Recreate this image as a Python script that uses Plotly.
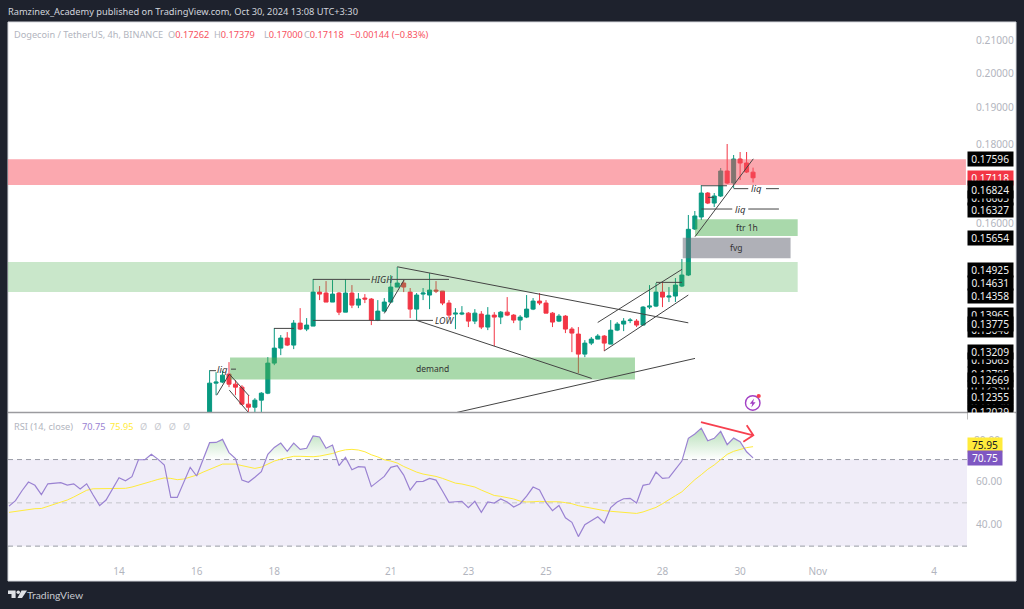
# -*- coding: utf-8 -*-
import numpy as np
import pandas as pd
import plotly.graph_objects as go

W = 1024
H = 609
BG = '#1e222d'
GREEN = '#089981'
RED = '#f23645'
GREY = '#b2b5be'
INK = '#333333'
FONT = 'Noto Sans'

# 4h candles, first one is bar 14 (bar 0 = Oct 14)
opens = [.11941,.12617,.12636,.12787,.12598,.12542,.12229,.12174,.12302,.12430,.12998,.13291,.13491,.13351,.13794,
         .13672,.13733,.14445,.14424,.14232,.14424,.14021,.14424,.14168,.14317,.14296,.13856,.14042,.14232,.14553,
         .14640,.14445,.14084,.14402,.14381,.14488,.14467,.14211,.13980,.13980,.14000,.13835,.13980,.13713,.13959,
         .13918,.14021,.13959,.13856,.13918,.14084,.14253,.14211,.14000,.13835,.13938,.13672,.13571,.13173,.13390,
         .13470,.13531,.13370,.13651,.13774,.13846,.13835,.13754,.14126,.14147,.14445,.14338,.14360,.14575,.14815,
         .15864,.16150,.16735,.16488,.16661,.17292,.16986,.17603,.17499,.17262]
highs = [.12863,.12825,.12844,.13017,.12673,.12579,.12393,.12339,.12449,.13114,.13692,.13551,.13611,.13856,.14105,
         .13897,.14727,.14575,.14683,.14705,.14445,.14727,.14596,.14424,.14402,.14317,.14274,.14317,.14815,.14992,
         .14705,.14532,.14424,.14532,.14858,.14683,.14467,.14274,.14105,.14147,.14021,.14084,.14042,.14126,.14021,
         .14042,.14338,.13980,.13959,.14381,.14317,.14424,.14274,.14021,.13980,.13959,.13713,.13713,.13450,.13511,
         .13571,.13551,.13856,.13815,.13897,.13897,.13877,.14147,.14596,.14640,.14662,.14553,.14749,.15171,.16198,
         .16294,.16935,.16760,.16735,.17369,.18000,.17708,.17787,.17787,.17379]
lows = [.11900,.12393,.12617,.12542,.12393,.12211,.12066,.12066,.12066,.12412,.12959,.13153,.13331,.13271,.13651,
        .13631,.13733,.14274,.14232,.14232,.13959,.14021,.14105,.14105,.14211,.13754,.13835,.14021,.14211,.14553,
        .14445,.13897,.13856,.14274,.14084,.14424,.14168,.13897,.13672,.13959,.13713,.13774,.13672,.13651,.13331,
        .13774,.13938,.13794,.13651,.13897,.14063,.14168,.14000,.13713,.13815,.13591,.13212,.12806,.13114,.13351,
        .13470,.13232,.13370,.13631,.13631,.13794,.13713,.13754,.14084,.14126,.14126,.14232,.14232,.14553,.14793,
        .15840,.16077,.16463,.16390,.16636,.16960,.16860,.17062,.17240,.17000]
closes = [.12617,.12636,.12768,.12598,.12542,.12229,.12174,.12302,.12430,.12998,.13291,.13491,.13351,.13794,.13672,
          .13754,.14445,.14402,.14232,.14402,.14021,.14424,.14168,.14296,.14296,.13856,.14042,.14232,.14553,.14640,
          .14553,.14084,.14381,.14424,.14488,.14467,.14211,.13959,.14000,.14000,.13835,.14000,.13713,.13959,.13918,
          .14021,.13959,.13856,.13918,.14084,.14253,.14211,.14000,.13815,.13938,.13672,.13591,.13173,.13390,.13470,
          .13531,.13390,.13651,.13774,.13835,.13856,.13754,.14126,.14147,.14445,.14338,.14360,.14596,.14815,.15857,
          .16174,.16735,.16488,.16661,.17292,.16986,.17603,.17499,.17266,.17118]

# RSI and its average, one value per bar from bar -17 to bar 98
rsi = [48.5,51.0,55.6,59.6,58.1,53.8,58.8,59.0,59.3,58.2,58.8,56.4,58.8,53.6,48.7,51.3,56.2,61.6,60.2,62.1,
       69.9,69.9,72.4,70.2,67.5,52.5,52.5,59.8,66.4,62.4,69.8,77.8,77.9,79.3,73.2,70.5,60.5,59.5,61.8,64.4,
       72.4,75.6,77.6,73.8,77.6,74.7,75.2,80.9,80.4,75.2,76.7,67.2,
       71.0,65.3,66.7,66.5,57.5,59.8,62.2,66.4,67.2,62.8,55.9,59.8,59.9,61.3,60.5,55.5,50.2,50.5,50.7,47.8,
       50.7,45.6,50.4,49.9,51.8,50.4,48.1,49.6,53.1,57.3,55.9,50.2,46.4,48.8,43.1,41.0,34.4,39.9,41.7,43.6,
       40.7,47.8,50.4,51.9,52.1,49.9,
       58.1,58.7,64.2,61.3,61.6,65.5,69.3,79.8,81.8,84.5,78.7,79.8,83.0,76.9,79.9,78.2,73.6,70.75]
rsi_ma = [45.6,46.1,46.5,47.0,47.3,47.4,48.4,49.1,50.1,51.3,52.7,54.4,55.8,56.5,56.5,56.5,56.5,56.5,56.7,57.3,
          58.1,58.8,59.9,60.8,61.5,61.3,60.7,61.0,61.8,62.8,64.2,65.5,66.7,67.9,67.9,67.9,67.2,66.4,65.9,66.5,
          67.8,69.3,70.2,70.8,71.5,71.5,71.3,71.3,71.6,72.1,72.8,73.8,
          74.5,74.7,74.4,73.6,72.2,71.2,69.9,69.3,68.4,66.8,65.5,64.2,63.3,62.8,62.2,61.3,60.2,59.1,58.7,58.1,
          57.3,55.9,54.5,53.4,53.0,52.5,51.8,50.8,50.4,50.5,50.7,50.5,50.5,50.5,50.1,49.6,48.7,48.1,47.4,47.0,
          46.4,46.1,45.8,45.4,45.1,45.1,
          45.8,46.7,47.9,49.6,51.3,53.3,55.1,57.9,60.7,63.0,65.5,67.5,69.8,72.4,73.8,74.7,75.5,75.95]

time_ticks = ['2024-10-14','2024-10-16','2024-10-18','2024-10-21','2024-10-23','2024-10-25','2024-10-28','2024-10-30','2024-11-01','2024-11-04']
time_labels = ['14','16','18','21','23','25','28','30','Nov','4']
price_ticks = [.21,.20,.19,.18,.16]
rsi_ticks = [60,40]

# zones: bar from, bar to, price top, price bottom
zone_supply = (-17.16, 130.9, .17596, .16935)
zone_wide = (-17.16, 104.9, .15104, .14445)
zone_demand = (17.16, 79.75, .13107, .12686)
zone_ftr = (89.03, 104.9, .16094, .15700)
zone_fvg = (87.13, 103.8, .15660, .15187)

# hand drawn lines: bar, price, bar, price
drawn_lines = [
    (14.06,.12853,14.99,.12853),(17.31,.12882,18.08,.12882),(15.1,.12393,17.05,.12787),
    (17.05,.12787,20.09,.12382),(17.05,.12486,20.09,.12066),(23.96,.13686,27.05,.13686),
    (29.98,.14720,38.79,.14720),(42.19,.14720,51.0,.14720),(29.98,.13850,48.53,.13850),
    (41.0,.13994,44.05,.14705),(43.01,.14998,87.99,.13800),(46.01,.13850,73.06,.12705),
    (51.93,.12072,89.03,.13089),(75.0,.13237,87.99,.14381),(73.99,.13807,87.02,.14941),
    (83.0,.14655,87.02,.14655),(90.0,.16917,93.97,.16917),(91.04,.16628,91.96,.16628),
    (95.0,.16844,97.26,.16844),(100.0,.16844,102.0,.16844),(90.0,.16342,94.79,.16342),
    (97.26,.16342,102.0,.16342),(89.03,.15684,98.04,.17608),
]
drawn_texts = [
    ('<i>liq</i>',15.95,.12882,9.5),('<i>HIGH</i>',40.6,.14720,9),('<i>LOW</i>',50.4,.13850,9),
    ('demand',48.5,.12900,8.5),('<i>liq</i>',98.6,.16844,9.5),('<i>liq</i>',96.0,.16342,9.5),
    ('ftr 1h',97.0,.15890,8.5),('fvg',95.4,.15430,8.5),
]
# red arrow on the RSI pane: bar and RSI value
arrow_bars = [89.95,98.04,None,97.02,98.04,96.5]
arrow_rsi = [87.3,81.2,None,85.8,81.2,78.2]

# labels on the price scale, later ones sit on top of earlier ones
scale_prices = ['0.16605','0.16824','0.16327','0.17596','0.15654','0.14925','0.14358','0.14631','0.13965','0.13646',
                '0.13775','0.13063','0.12785','0.12530','0.12250','0.13209','0.12669','0.12355']

t0 = pd.Timestamp('2024-10-14')


def bar_time(k):
    return str(t0 + pd.Timedelta(hours=4 * k))


def px(x):
    return x / W


def py(y):
    return 1 - y / H


candle_times = [t0 + pd.Timedelta(hours=4 * k) for k in range(14, 99)]
rsi_times = [t0 + pd.Timedelta(hours=4 * k) for k in range(-17, 99)]
x_range = [bar_time(-17.16), bar_time(131.07)]
price_top = .18 * np.exp(122 / 673)
price_bottom = .18 * np.exp(-268 / 673)

fig = go.Figure()
fig.add_trace(go.Candlestick(
    x=candle_times, open=opens, high=highs, low=lows, close=closes,
    increasing=dict(line=dict(color=GREEN, width=1), fillcolor=GREEN),
    decreasing=dict(line=dict(color=RED, width=1), fillcolor=RED),
    xaxis='x', yaxis='y', hoverinfo='skip', showlegend=False,
))

# overbought fill: keep the crossings of 70 so it stays under the RSI line
fill_t = []
fill_v = []
for i, r in enumerate(rsi):
    if i > 0 and (rsi[i - 1] - 70) * (r - 70) < 0:
        f = (70 - rsi[i - 1]) / (r - rsi[i - 1])
        fill_t.append(rsi_times[i - 1] + (rsi_times[i] - rsi_times[i - 1]) * f)
        fill_v.append(70)
    fill_t.append(rsi_times[i])
    fill_v.append(max(r, 70))
fig.add_trace(go.Scatter(x=fill_t, y=[70] * len(fill_t), mode='lines', line=dict(width=0),
                         xaxis='x2', yaxis='y2', hoverinfo='skip', showlegend=False))
fig.add_trace(go.Scatter(x=fill_t, y=fill_v, mode='lines', line=dict(width=0), fill='tonexty',
                         fillgradient=dict(type='vertical', start=70, stop=85,
                                           colorscale=[[0, 'rgba(129,199,132,0)'], [1, 'rgba(129,199,132,0.6)']]),
                         xaxis='x2', yaxis='y2', hoverinfo='skip', showlegend=False))
fig.add_trace(go.Scatter(x=rsi_times, y=rsi_ma, mode='lines', line=dict(color='#ffeb3b', width=1),
                         xaxis='x2', yaxis='y2', hoverinfo='skip', showlegend=False))
fig.add_trace(go.Scatter(x=rsi_times, y=rsi, mode='lines', line=dict(color='#9a82d2', width=1.2),
                         xaxis='x2', yaxis='y2', hoverinfo='skip', showlegend=False))
fig.add_trace(go.Scatter(x=[None if k is None else bar_time(k) for k in arrow_bars], y=arrow_rsi, mode='lines',
                         line=dict(color='#f7404f', width=1.8), connectgaps=False,
                         xaxis='x2', yaxis='y2', hoverinfo='skip', showlegend=False))

shapes = []
# white chart card
shapes.append(dict(type='rect', xref='paper', yref='paper', x0=px(8), x1=px(1016), y0=py(581), y1=py(22),
                   fillcolor='white', line=dict(color='#d6d8de', width=1), layer='below'))
shapes.append(dict(type='rect', xref='paper', yref='y2', x0=px(8), x1=px(967), y0=30, y1=70,
                   fillcolor='#f0edf8', line=dict(width=0), layer='below'))
for level, col in ((70, '#9a9ca6'), (50, '#c4c5cc'), (30, '#9a9ca6')):
    shapes.append(dict(type='line', xref='paper', yref='y2', x0=px(8), x1=px(967), y0=level, y1=level,
                       line=dict(color=col, width=1, dash='5px,4px'), layer='below'))


def zone(z, col):
    return dict(type='rect', xref='x', yref='y', x0=bar_time(z[0]), x1=bar_time(z[1]), y0=z[3], y1=z[2],
                fillcolor=col, line=dict(width=0), layer='above')


shapes.append(zone(zone_supply, 'rgba(247,82,95,0.5)'))
shapes.append(zone(zone_wide, 'rgba(76,175,80,0.3)'))
shapes.append(zone(zone_demand, 'rgba(76,175,80,0.48)'))
shapes.append(zone(zone_ftr, 'rgba(76,175,80,0.48)'))
shapes.append(zone(zone_fvg, 'rgba(110,112,124,0.55)'))
for a, b, c, d in drawn_lines:
    shapes.append(dict(type='line', xref='x', yref='y', x0=bar_time(a), y0=b, x1=bar_time(c), y1=d,
                       line=dict(color='#444444', width=1), layer='above'))
# pane separator
shapes.append(dict(type='line', xref='paper', yref='paper', x0=px(8), x1=px(1016), y0=py(412.5), y1=py(412.5),
                   line=dict(color='#9b9b9f', width=1.5), layer='above'))
# lightning badge
shapes.append(dict(type='circle', xref='paper', yref='paper', x0=px(745.5), x1=px(760), y0=py(410.2), y1=py(395.7),
                   line=dict(color='#a23fc4', width=1.4), fillcolor='white', layer='above'))
shapes.append(dict(type='path', xref='paper', yref='paper', layer='above', fillcolor='#a23fc4', line=dict(width=0),
                   path='M %f %f L %f %f L %f %f L %f %f L %f %f L %f %f Z' % (
                       px(754), py(398.5), px(749.8), py(403.8), px(752.3), py(403.8),
                       px(751.3), py(407.5), px(755.6), py(402.2), px(753.1), py(402.2))))
shapes.append(dict(type='circle', xref='paper', yref='paper', x0=px(756.6), x1=px(760.8), y0=py(398.1), y1=py(393.9),
                   fillcolor='#f7404f', line=dict(width=0), layer='above'))
# TradingView mark
logo = [
    'M %f %f L %f %f L %f %f L %f %f L %f %f L %f %f Z' % (
        px(8), py(590.5), px(15.6), py(590.5), px(15.6), py(598), px(11.5), py(598), px(11.5), py(594), px(8), py(594)),
    'M %f %f L %f %f L %f %f L %f %f Z' % (
        px(21.5), py(590.5), px(27), py(590.5), px(22), py(598), px(17.5), py(598)),
]
for p in logo:
    shapes.append(dict(type='path', xref='paper', yref='paper', path=p, fillcolor='#dfe1e6', line=dict(width=0)))
shapes.append(dict(type='circle', xref='paper', yref='paper', x0=px(16.5), x1=px(20), y0=py(594), y1=py(590.5),
                   fillcolor='#dfe1e6', line=dict(width=0)))

annotations = []


def note(text, x, y, size=10, color=GREY, anchor='left', xref='paper', yref='paper', **kw):
    annotations.append(dict(text=text, x=x, y=y, xref=xref, yref=yref, xanchor=anchor, yanchor='middle',
                            showarrow=False, font=dict(family=FONT, size=size, color=color), **kw))


note('Ramzinex_Academy published on TradingView.com, Oct 30, 2024 13:08 UTC+3:30', px(6), py(12), size=9.25, color='#d1d4dc')
annotations.append(dict(text='TradingView', x=px(25), y=py(595), xref='paper', yref='paper', xanchor='left',
                        yanchor='middle', showarrow=False, font=dict(family='Lato', size=10.4, color='#c8cad0')))
red = '<span style="color:%s">%%s</span>' % '#f7525f'
note('Dogecoin / TetherUS, 4h, BINANCE', px(12), py(34), size=9.2)
note('O' + red % '0.17262', px(166), py(34), size=9.2)
note('H' + red % '0.17379', px(212), py(34), size=9.2)
note('L' + red % '0.17000', px(262), py(34), size=9.2)
note('C' + red % '0.17118', px(302), py(34), size=9.2)
note(red % '−0.00144 (−0.83%)', px(348), py(34), size=9.2)
note('RSI (14, close)', px(12), py(426), size=9.2)
note('<span style="color:#9a82d2">70.75</span>', px(79.5), py(426), size=9.2)
note('<span style="color:#ffeb3b">75.95</span>', px(108), py(426), size=9.2)
note('Ø   Ø   Ø   Ø', px(138), py(426), size=9.2, color='#c8cad0')
for text, k, price, size in drawn_texts:
    note(text, bar_time(k), np.log10(price), size=size, color=INK, anchor='center', xref='x', yref='y')

box = dict(width=44.5, height=14, align='center', borderpad=0)
note('0.17118', px(967.3), np.log10(.17118), size=10.2, color='white', yref='y', bgcolor=RED, **box)
for label in scale_prices:
    b = dict(box)
    if label == '0.16824':
        b['height'] = 17
    note(label, px(967.3), np.log10(float(label)), size=10.2, color='#f0f0f0', yref='y', bgcolor='#000000', **b)
note('0.12029', px(967.3), py(412), size=10.2, color='#f0f0f0', bgcolor='#000000', **box)
note(' ', px(967), py(418), bgcolor='white', width=46, height=10, borderpad=0)
note('80.00', px(972), py(440.5), size=10.2)
badge = dict(width=34, height=13.5, align='center', borderpad=0)
note('75.95', px(967.3), py(444.6), size=10.2, color='#131722', bgcolor='#ffeb3b', **badge)
note('70.75', px(967.3), py(458), size=10.2, color='white', bgcolor='#7e57c2', **badge)

fig.update_layout(
    width=W, height=H, margin=dict(l=0, r=0, t=0, b=0), autosize=False,
    paper_bgcolor=BG, plot_bgcolor='rgba(0,0,0,0)', showlegend=False, hovermode=False,
    boxgap=0.38, boxgroupgap=0,
    xaxis=dict(domain=[px(8), px(967)], range=x_range, type='date', anchor='y', showgrid=False, zeroline=False,
               showticklabels=False, ticks='', rangeslider=dict(visible=False), showline=False),
    xaxis2=dict(domain=[px(8), px(967)], range=x_range, type='date', anchor='y2', showgrid=False, zeroline=False,
                tickmode='array', tickvals=time_ticks, ticktext=time_labels, ticks='outside', ticklen=2,
                tickcolor='rgba(0,0,0,0)', tickfont=dict(family=FONT, size=10, color=GREY), showline=False),
    yaxis=dict(domain=[py(412), py(22)], type='log', range=[np.log10(price_bottom), np.log10(price_top)],
               anchor='x', side='right', showgrid=False, zeroline=False, tickmode='array',
               tickvals=price_ticks, ticktext=['%.5f' % p for p in price_ticks], ticks='outside', ticklen=6,
               tickcolor='rgba(0,0,0,0)', tickfont=dict(family=FONT, size=10.2, color=GREY), showline=False),
    yaxis2=dict(domain=[py(560), py(413)], range=[23.6, 91.5], anchor='x2', side='right', showgrid=False,
                zeroline=False, tickmode='array', tickvals=rsi_ticks, ticktext=['%.2f' % v for v in rsi_ticks],
                ticks='outside', ticklen=6, tickcolor='rgba(0,0,0,0)',
                tickfont=dict(family=FONT, size=10.2, color=GREY), showline=False),
    shapes=shapes, annotations=annotations,
)

fig.write_html('out.html', config=dict(displayModeBar=False),
               post_script="document.body.style.margin='0';document.body.style.overflow='hidden';")
